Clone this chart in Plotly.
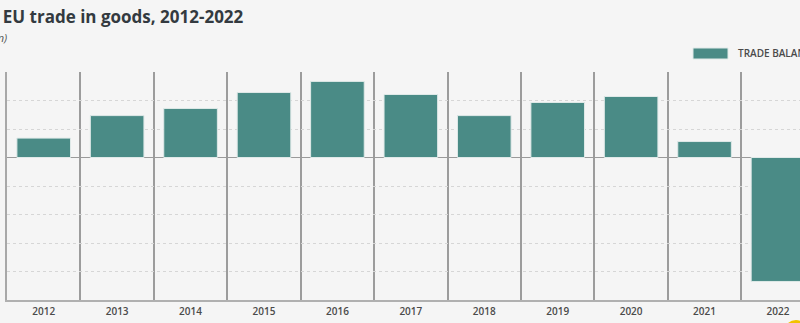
import plotly.graph_objects as go

years = ["2012", "2013", "2014", "2015", "2016", "2017", "2018", "2019", "2020", "2021", "2022"]
trade_balance = [68, 147, 172, 228, 267, 221, 147, 193, 214, 56, -435]
series_name = "TRADE BALANCE"
title_text = "EU trade in goods, 2012-2022"
unit_text = "(€ billion)"

BAR = "#4a8b86"
W, H = 800, 323
ML, MR, MT, MB = 7, 0, 72, 23
PW = W - ML - MR
PH = H - MT - MB

def px(xp):
    return (xp - ML) / PW

def py(yp):
    return (H - MB - yp) / PH

fig = go.Figure()
fig.add_trace(go.Bar(
    x=years, y=trade_balance, name=series_name,
    marker=dict(color=BAR, line=dict(color="#dfe9e8", width=1)),
    showlegend=False,
))

fig.update_layout(
    width=W, height=H,
    margin=dict(l=ML, r=MR, t=MT, b=MB),
    paper_bgcolor="#f5f5f5", plot_bgcolor="#f5f5f5",
    bargap=0.27,
    font=dict(family="Open Sans", color="#555555"),
    title=dict(text="<b>" + title_text + "</b>", xref="container", x=0.0035, xanchor="left",
               y=1 - 17 / H, yanchor="middle", font=dict(size=17, color="#333a40")),
    xaxis=dict(
        type="category", range=[-0.5, 10.3], tickson="boundaries",
        showgrid=True, gridcolor="#9c9c9c", gridwidth=1.6,
        showline=True, linecolor="#b0b0b0", linewidth=1.5,
        ticks="", tickfont=dict(size=10, color="#4a4a4a", family="Open Sans", weight=600),
        ticklabelstandoff=1,
    ),
    yaxis=dict(
        range=[-500, 300], dtick=100, showticklabels=False,
        showgrid=True, gridcolor="#d6d6d6", gridwidth=1, griddash="dot",
        zeroline=True, zerolinecolor="#9a9a9a", zerolinewidth=1.2,
        showline=True, linecolor="#a8a8a8", linewidth=2,
    ),
)

# legend drawn as swatch + label
fig.add_shape(type="rect", xref="paper", yref="paper",
              x0=px(693), x1=px(728), y0=py(59), y1=py(48),
              fillcolor=BAR, line=dict(color="#dfe9e8", width=1))
fig.add_annotation(xref="paper", yref="paper", x=px(736), y=py(53.5),
                   xanchor="left", yanchor="middle", showarrow=False,
                   text=series_name, font=dict(size=10, color="#4a4a4a", family="Open Sans", weight=600))
# unit subtitle (cut off at the left edge)
fig.add_annotation(xref="paper", yref="paper", x=px(9), y=py(38),
                   xanchor="right", yanchor="middle", showarrow=False,
                   text="<i>" + unit_text + "</i>", font=dict(size=11, color="#555555"))
# yellow badge at the bottom-right corner
fig.add_shape(type="circle", xref="paper", yref="paper",
              x0=px(784), x1=px(808), y0=py(344), y1=py(320),
              fillcolor="#f2c200", line=dict(width=0))

fig.write_html("out.html")
